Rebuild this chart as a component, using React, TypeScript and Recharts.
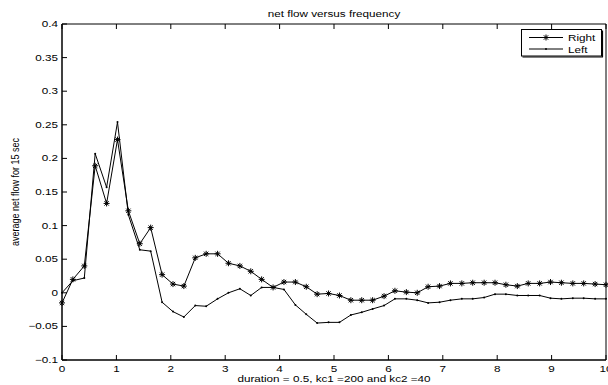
import React from "react";
import { Customized, Legend, Line, LineChart, XAxis, YAxis } from "recharts";

const X_VALUES = [
  0, 0.2, 0.41, 0.61, 0.82, 1.02, 1.22, 1.43, 1.63, 1.84, 2.04, 2.24, 2.45, 2.65, 2.86, 3.06, 3.27,
  3.47, 3.67, 3.88, 4.08, 4.29, 4.49, 4.69, 4.9, 5.1, 5.31, 5.51, 5.71, 5.92, 6.12, 6.33, 6.53, 6.73,
  6.94, 7.14, 7.35, 7.55, 7.76, 7.96, 8.16, 8.37, 8.57, 8.78, 8.98, 9.18, 9.39, 9.59, 9.8, 10,
];

const RIGHT = [
  -0.015, 0.02, 0.04, 0.189, 0.133, 0.228, 0.122, 0.073, 0.097, 0.027, 0.013, 0.01, 0.052, 0.058,
  0.058, 0.044, 0.04, 0.032, 0.02, 0.008, 0.016, 0.016, 0.009, -0.002, -0.001, -0.004, -0.011,
  -0.011, -0.011, -0.005, 0.003, 0.001, 0, 0.009, 0.01, 0.014, 0.014, 0.015, 0.015, 0.015, 0.012,
  0.01, 0.014, 0.014, 0.016, 0.015, 0.014, 0.014, 0.013, 0.012,
];

const LEFT = [
  0, 0.018, 0.022, 0.207, 0.157, 0.254, 0.116, 0.064, 0.062, -0.014, -0.028, -0.036, -0.019, -0.02,
  -0.009, 0, 0.006, -0.004, 0.008, 0.008, 0.005, -0.018, -0.032, -0.045, -0.044, -0.044, -0.033,
  -0.029, -0.024, -0.019, -0.009, -0.009, -0.011, -0.015, -0.014, -0.011, -0.009, -0.009, -0.007,
  -0.002, -0.002, -0.004, -0.004, -0.004, -0.008, -0.009, -0.008, -0.008, -0.009, -0.009,
];

const X_TICKS = [0, 1, 2, 3, 4, 5, 6, 7, 8, 9, 10];
const Y_TICKS = [-0.1, -0.05, 0, 0.05, 0.1, 0.15, 0.2, 0.25, 0.3, 0.35, 0.4];

const TITLE = "net flow versus frequency";
const X_LABEL = "duration = 0.5, kc1 =200 and kc2 =40";
const Y_LABEL = "average net flow for 15 sec";

const data = X_VALUES.map((x, i) => ({ x, right: RIGHT[i], left: LEFT[i] }));

const FONT = "'Liberation Sans', Arial, Helvetica, sans-serif";
const FS = 9;
const SX = 1.3; // the reference text is stretched sideways

const fmt = (v: number) => String(v).replace("-", "\u2212");

function Asterisk({ cx, cy, r = 3.5 }: { cx?: number; cy?: number; r?: number }) {
  if (cx == null || cy == null) return null;
  const d = r * 0.72;
  return (
    <g stroke="#000" strokeWidth={1}>
      <line x1={cx - r} y1={cy} x2={cx + r} y2={cy} />
      <line x1={cx} y1={cy - r} x2={cx} y2={cy + r} />
      <line x1={cx - d} y1={cy - d} x2={cx + d} y2={cy + d} />
      <line x1={cx - d} y1={cy + d} x2={cx + d} y2={cy - d} />
    </g>
  );
}

function Dot({ cx, cy }: { cx?: number; cy?: number }) {
  if (cx == null || cy == null) return null;
  return <circle cx={cx} cy={cy} r={1} fill="#000" />;
}

function BottomTick({ x, y, payload }: any) {
  return (
    <g>
      <line x1={x} y1={y} x2={x} y2={y - 5} stroke="#000" />
      <g transform={`translate(${x},${y + 11.5})`}>
        <text transform={`scale(${SX},1)`} textAnchor="middle" fontSize={FS} fontFamily={FONT} fill="#000">
          {payload.value}
        </text>
      </g>
    </g>
  );
}

function TopTick({ x, y }: any) {
  return <line x1={x} y1={y} x2={x} y2={y + 5} stroke="#000" />;
}

function LeftTick({ x, y, payload }: any) {
  return (
    <g>
      <line x1={x} y1={y} x2={x + 5} y2={y} stroke="#000" />
      <g transform={`translate(${x - 4},${y + 3})`}>
        <text transform={`scale(${SX},1)`} textAnchor="end" fontSize={FS} fontFamily={FONT} fill="#000">
          {fmt(payload.value)}
        </text>
      </g>
    </g>
  );
}

function RightTick({ x, y }: any) {
  return <line x1={x} y1={y} x2={x - 5} y2={y} stroke="#000" />;
}

function Titles() {
  return (
    <g fill="#000" fontSize={FS} fontFamily={FONT}>
      <g transform="translate(334,16.5)">
        <text transform={`scale(${SX},1)`} textAnchor="middle">{TITLE}</text>
      </g>
      <g transform="translate(334,382)">
        <text transform={`scale(${SX},1)`} textAnchor="middle">{X_LABEL}</text>
      </g>
      <g transform="translate(19,192) rotate(-90)">
        <text transform={`scale(1,${SX})`} textAnchor="middle">{Y_LABEL}</text>
      </g>
    </g>
  );
}

function LegendBox() {
  const rows = [
    { name: "Right", y: 8.5, marker: <Asterisk cx={25} cy={8.5} r={3} /> },
    { name: "Left", y: 20, marker: <Dot cx={25} cy={20} /> },
  ];
  return (
    <svg width={84} height={30} style={{ display: "block" }}>
      <rect x={0.5} y={0.5} width={80} height={26.5} fill="#fff" stroke="#000" strokeWidth={1} />
      <line x1={81.5} y1={1.5} x2={81.5} y2={28} stroke="#000" strokeWidth={1.2} />
      <line x1={1.5} y1={28} x2={82} y2={28} stroke="#000" strokeWidth={1.2} />
      {rows.map((r) => (
        <g key={r.name}>
          <line x1={8} y1={r.y} x2={42} y2={r.y} stroke="#000" strokeWidth={1} />
          {r.marker}
          <g transform={`translate(47,${r.y + 3.5})`}>
            <text transform={`scale(${SX},1)`} fontSize={FS} fontFamily={FONT} fill="#000">
              {r.name}
            </text>
          </g>
        </g>
      ))}
    </svg>
  );
}

export default function App() {
  return (
    <div style={{ position: "absolute", left: 0, top: 0, width: 608, height: 385, background: "#fff" }}>
      <LineChart width={608} height={385} data={data} margin={{ top: 23, right: 1, bottom: 24, left: 61 }}>
        <XAxis
          dataKey="x"
          type="number"
          domain={[0, 10]}
          ticks={X_TICKS}
          interval={0}
          height={1}
          tickSize={0}
          tickMargin={0}
          tickLine={false}
          axisLine={{ stroke: "#000", strokeWidth: 1.5 }}
          tick={<BottomTick />}
        />
        <XAxis
          xAxisId="top"
          orientation="top"
          dataKey="x"
          type="number"
          domain={[0, 10]}
          ticks={X_TICKS}
          interval={0}
          height={1}
          tickSize={0}
          tickMargin={0}
          tickLine={false}
          axisLine={{ stroke: "#000", strokeWidth: 1 }}
          tick={<TopTick />}
        />
        <YAxis
          type="number"
          domain={[-0.1, 0.4]}
          ticks={Y_TICKS}
          interval={0}
          width={1}
          tickSize={0}
          tickMargin={0}
          tickLine={false}
          axisLine={{ stroke: "#000", strokeWidth: 1.5 }}
          tick={<LeftTick />}
        />
        <YAxis
          yAxisId="right"
          orientation="right"
          type="number"
          domain={[-0.1, 0.4]}
          ticks={Y_TICKS}
          interval={0}
          width={1}
          tickSize={0}
          tickMargin={0}
          tickLine={false}
          axisLine={{ stroke: "#000", strokeWidth: 1 }}
          tick={<RightTick />}
        />
        <Legend
          layout="vertical"
          verticalAlign="middle"
          align="center"
          wrapperStyle={{ position: "absolute", left: 521, top: 29, width: 84, height: 30 }}
          content={() => <LegendBox />}
        />
        <Line
          type="linear"
          dataKey="left"
          name="Left"
          stroke="#000"
          strokeWidth={1}
          dot={<Dot />}
          activeDot={false}
          isAnimationActive={false}
        />
        <Line
          type="linear"
          dataKey="right"
          name="Right"
          stroke="#000"
          strokeWidth={1}
          dot={<Asterisk />}
          activeDot={false}
          isAnimationActive={false}
        />
        <Customized component={<Titles />} />
      </LineChart>
    </div>
  );
}
